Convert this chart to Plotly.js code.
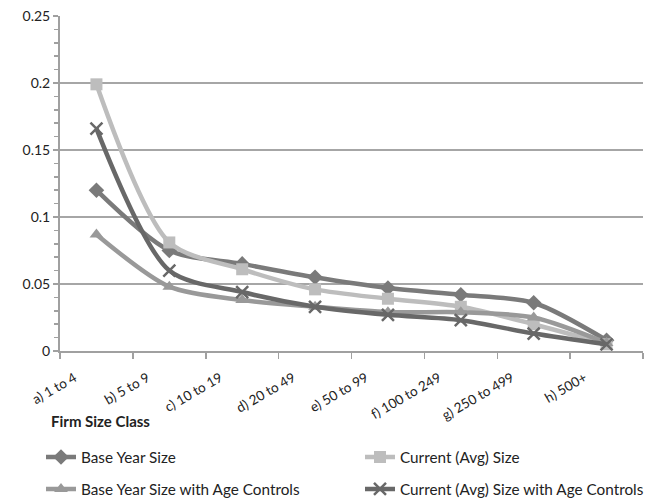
<!DOCTYPE html>
<html><head><meta charset="utf-8">
<script src="https://cdn.plot.ly/plotly-3.0.1.min.js"></script>
<style>html,body{margin:0;padding:0;background:#fff}#chart{width:651px;height:500px}</style>
</head><body><div id="chart"></div>
<script>
const categories = ["a) 1 to 4","b) 5 to 9","c) 10 to 19","d) 20 to 49","e) 50 to 99","f) 100 to 249","g) 250 to 499","h) 500+"];
const baseYear = [0.120,0.075,0.065,0.055,0.047,0.042,0.036,0.008];
const currentAvg = [0.199,0.081,0.061,0.046,0.039,0.033,0.020,0.005];
const baseYearAge = [0.087,0.048,0.038,0.033,0.029,0.029,0.025,0.006];
const currentAvgAge = [0.166,0.060,0.044,0.033,0.027,0.023,0.013,0.005];
const seriesNames = ["Base Year Size","Current (Avg) Size","Base Year Size with Age Controls","Current (Avg) Size with Age Controls"];

const font = "Lato, 'Open Sans', sans-serif";
function tr(y, name, color, symbol, legend){
  return {x: categories, y: y, name: name, type: 'scatter', mode: 'lines+markers', legend: legend,
    line: {color: color, width: 4.5, shape: 'spline', smoothing: 0.8},
    marker: {color: color, symbol: symbol, size: 12, line:{color:color, width: symbol==='x-thin'?2.5:0}}};
}
const data = [
  tr(baseYear, seriesNames[0], '#7a7a7a', 'diamond', 'legend'),
  tr(currentAvg, seriesNames[1], '#bdbdbd', 'square', 'legend2'),
  tr(baseYearAge, seriesNames[2], '#999999', 'triangle-up', 'legend3'),
  tr(currentAvgAge, seriesNames[3], '#686868', 'x-thin', 'legend4'),
];
function leg(xpx, ypx){
  return {orientation: 'v', xref: 'container', yref: 'container', x: xpx/651, y: 1 - ypx/500,
    xanchor: 'left', yanchor: 'middle', font: {size: 15.3, family: font, color: '#222'},
    bgcolor: 'rgba(0,0,0,0)', itemwidth: 30};
}
const layout = {
  width: 651, height: 500,
  margin: {l: 60, r: 8, t: 16, b: 149, autoexpand: false},
  paper_bgcolor: '#fff', plot_bgcolor: '#fff',
  font: {family: font, size: 13, color: '#222'},
  showlegend: true,
  legend: leg(41, 457),
  legend2: leg(360, 457),
  legend3: leg(41, 489),
  legend4: leg(360, 489),
  xaxis: {type: 'category', range: [-0.5, 7.5], showgrid: false, zeroline: false,
    showline: true, linecolor: '#a0a0a0', linewidth: 2,
    ticks: 'outside', tickson: 'boundaries', ticklen: 6, tickcolor: '#a0a0a0', tickwidth: 1.5,
    tickangle: -30, ticklabelshift: -22, ticklabelstandoff: 12,
    tickfont: {size: 13.5, family: font, color: '#222'}},
  xaxis2: {overlaying: 'x', anchor: 'y', range: [-0.5, 7.5], tick0: -0.5, dtick: 1,
    showgrid: false, zeroline: false, showline: false, showticklabels: false,
    ticks: 'inside', ticklen: 5, tickcolor: '#a0a0a0', tickwidth: 1.5},
  yaxis: {range: [0, 0.25], dtick: 0.05, showgrid: true, gridcolor: '#a6a6a6', gridwidth: 2,
    zeroline: false, showline: true, linecolor: '#a0a0a0', linewidth: 2,
    ticks: 'outside', ticklen: 5, tickcolor: '#a0a0a0', tickwidth: 1.5,
    minor: {dtick: 0.01, ticks: 'outside', ticklen: 4, tickcolor: '#a0a0a0', tickwidth: 1.5, showgrid: false},
    tickfont: {size: 14, family: font, color: '#222'}},
  yaxis2: {overlaying: 'y', anchor: 'x', side: 'left', range: [0, 0.25], dtick: 0.01,
    showgrid: false, zeroline: false, showline: false, showticklabels: false,
    ticks: 'inside', ticklen: 4, tickcolor: '#a0a0a0', tickwidth: 1.5},
  annotations: [{text: '<b>Firm Size Class</b>', xref: 'paper', yref: 'paper', x: -0.019, y: -0.21,
    xanchor: 'left', yanchor: 'middle', showarrow: false, font: {size: 15, family: font, color: '#222'}}]
};
layout.annotations[0].y = (351 - 421) / 335;
Plotly.newPlot('chart', data, layout, {displayModeBar: false, staticPlot: true});
</script></body></html>
